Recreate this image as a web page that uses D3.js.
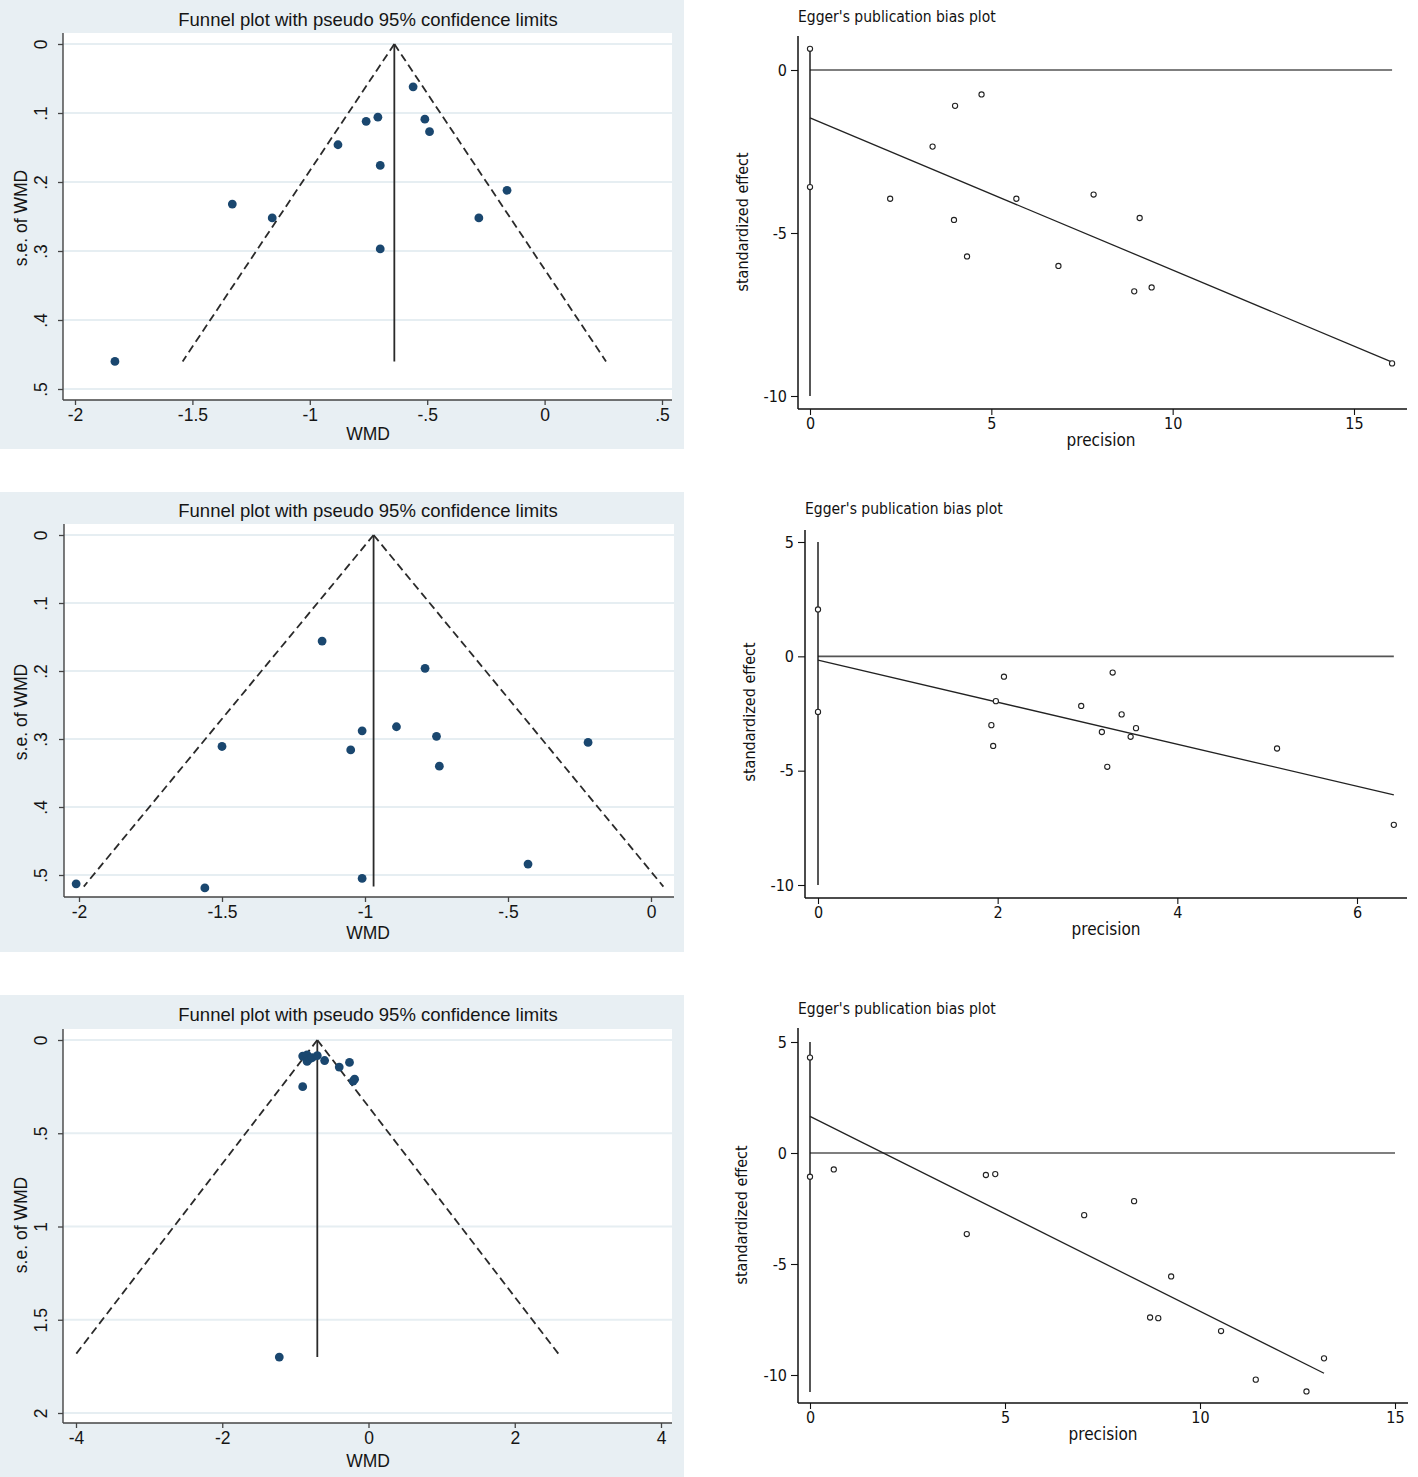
<!DOCTYPE html>
<html>
<head>
<meta charset="utf-8">
<script src="https://cdn.jsdelivr.net/npm/d3@7"></script>
<style>
  body { margin: 0; background: #fff; }
  svg { display: block; }
  .funnel text { font-family: "Liberation Sans", Arial, sans-serif; fill: #151515; }
  .egger text { font-family: "Liberation Sans Narrow", "DejaVu Sans Condensed", sans-serif; fill: #111; }
</style>
</head>
<body>
<div id="chart"></div>
<script>
// ---- funnel plot data (WMD vs s.e.) ----
const funnel1WMD = [-0.56, -0.76, -0.71, -0.51, -0.49, -0.88, -0.70, -0.16, -1.33, -1.16, -0.28, -0.70, -1.83];
const funnel1SE  = [0.062, 0.112, 0.106, 0.109, 0.127, 0.146, 0.176, 0.212, 0.232, 0.252, 0.252, 0.297, 0.460];
const funnel1Pooled = -0.64;
const funnel1MaxSE = 0.46;
const funnel1XTicks = [-2, -1.5, -1, -0.5, 0, 0.5];
const funnel1XLabels = ["-2", "-1.5", "-1", "-.5", "0", ".5"];
const funnel1YTicks = [0, 0.1, 0.2, 0.3, 0.4, 0.5];
const funnel1YLabels = ["0", ".1", ".2", ".3", ".4", ".5"];

const funnel2WMD = [-1.15, -0.79, -0.89, -1.01, -0.75, -0.22, -1.50, -1.05, -0.74, -0.43, -1.01, -2.01, -1.56];
const funnel2SE  = [0.156, 0.196, 0.282, 0.288, 0.296, 0.305, 0.311, 0.316, 0.340, 0.484, 0.505, 0.513, 0.519];
const funnel2Pooled = -0.97;
const funnel2MaxSE = 0.517;
const funnel2XTicks = [-2, -1.5, -1, -0.5, 0];
const funnel2XLabels = ["-2", "-1.5", "-1", "-.5", "0"];
const funnel2YTicks = [0, 0.1, 0.2, 0.3, 0.4, 0.5];
const funnel2YLabels = ["0", ".1", ".2", ".3", ".4", ".5"];

const funnel3WMD = [-0.90, -0.84, -0.84, -0.80, -0.77, -0.70, -0.60, -0.40, -0.26, -0.21, -0.19, -0.90, -1.22];
const funnel3SE  = [0.086, 0.080, 0.115, 0.100, 0.095, 0.084, 0.110, 0.145, 0.120, 0.220, 0.210, 0.250, 1.700];
const funnel3Pooled = -0.70;
const funnel3MaxSE = 1.70;
const funnel3XTicks = [-4, -2, 0, 2, 4];
const funnel3XLabels = ["-4", "-2", "0", "2", "4"];
const funnel3YTicks = [0, 0.5, 1, 1.5, 2];
const funnel3YLabels = ["0", ".5", "1", "1.5", "2"];

// ---- Egger plot data (precision vs standardized effect) ----
const egger1Precision = [0, 0, 2.21, 3.38, 4.00, 3.97, 4.73, 4.33, 5.69, 6.85, 7.82, 8.94, 9.09, 9.42, 16.05];
const egger1Effect    = [0.65, -3.59, -3.95, -2.35, -1.10, -4.60, -0.75, -5.72, -3.95, -6.01, -3.82, -6.79, -4.54, -6.67, -9.00];
const egger1Fit = [[0, -1.47], [16.05, -8.96]];
const egger1Zero = [0, 16.05];
const egger1Vertical = [0.65, -10];
const egger1XTicks = [0, 5, 10, 15];
const egger1YTicks = [0, -5, -10];

const egger2Precision = [0, 0, 2.07, 1.98, 1.93, 1.95, 2.93, 3.28, 3.16, 3.38, 3.54, 3.48, 3.22, 5.11, 6.41];
const egger2Effect    = [2.05, -2.43, -0.89, -1.96, -3.01, -3.92, -2.17, -0.71, -3.31, -2.54, -3.14, -3.52, -4.83, -4.03, -7.37];
const egger2Fit = [[0, -0.17], [6.41, -6.06]];
const egger2Zero = [0, 6.41];
const egger2Vertical = [5, -10];
const egger2XTicks = [0, 2, 4, 6];
const egger2YTicks = [5, 0, -5, -10];

const egger3Precision = [0, 0, 0.61, 4.02, 4.51, 4.75, 7.03, 8.31, 9.26, 8.72, 8.93, 10.54, 11.43, 12.73, 13.18];
const egger3Effect    = [4.30, -1.07, -0.74, -3.65, -0.99, -0.95, -2.80, -2.17, -5.56, -7.41, -7.44, -8.02, -10.21, -10.74, -9.25];
const egger3Fit = [[0, 1.65], [13.18, -9.92]];
const egger3Zero = [0, 15];
const egger3Vertical = [5, -10.77];
const egger3XTicks = [0, 5, 10, 15];
const egger3YTicks = [5, 0, -5, -10];

const W = 1418, H = 1477;
const svg = d3.select('#chart').append('svg').attr('width', W).attr('height', H);
const FUNNEL_FONT = '"Liberation Sans", Arial, sans-serif';
const EGGER_FONT = '"Liberation Sans Narrow", "DejaVu Sans Condensed", sans-serif';

const funnels = [
  { wmd: funnel1WMD, se: funnel1SE, pooled: funnel1Pooled, maxSE: funnel1MaxSE,
    xt: funnel1XTicks, xl: funnel1XLabels, yt: funnel1YTicks, yl: funnel1YLabels,
    bg: [0, 0, 684, 449], box: [63, 33, 672, 400],
    xd: [-2, 0.5], xr: [75, 662], yd: [0, 0.5], yr: [44, 389],
    titleY: 21, labY: 435, ylabY: 218 },
  { wmd: funnel2WMD, se: funnel2SE, pooled: funnel2Pooled, maxSE: funnel2MaxSE,
    xt: funnel2XTicks, xl: funnel2XLabels, yt: funnel2YTicks, yl: funnel2YLabels,
    bg: [0, 492, 684, 952], box: [64, 524, 674, 897],
    xd: [-2, 0], xr: [79, 651], yd: [0, 0.5], yr: [535, 875],
    titleY: 512, labY: 934, ylabY: 712 },
  { wmd: funnel3WMD, se: funnel3SE, pooled: funnel3Pooled, maxSE: funnel3MaxSE,
    xt: funnel3XTicks, xl: funnel3XLabels, yt: funnel3YTicks, yl: funnel3YLabels,
    bg: [0, 995, 684, 1477], box: [63, 1029, 672, 1423],
    xd: [-4, 4], xr: [76, 661], yd: [0, 2], yr: [1040, 1413],
    titleY: 1016, labY: 1462, ylabY: 1225 }
];

funnels.forEach(f => {
  const g = svg.append('g').attr('class', 'funnel');
  const [bx0, by0, bx1, by1] = f.box;
  g.append('rect').attr('x', f.bg[0]).attr('y', f.bg[1])
    .attr('width', f.bg[2] - f.bg[0]).attr('height', f.bg[3] - f.bg[1]).attr('fill', '#e8eff3');
  g.append('rect').attr('x', bx0).attr('y', by0)
    .attr('width', bx1 - bx0).attr('height', by1 - by0).attr('fill', '#fff');

  const x = d3.scaleLinear().domain(f.xd).range(f.xr);
  const y = d3.scaleLinear().domain(f.yd).range(f.yr);

  // grid
  g.selectAll('.grid').data(f.yt).enter().append('line')
    .attr('x1', bx0).attr('x2', bx1).attr('y1', d => y(d)).attr('y2', d => y(d))
    .attr('stroke', '#e6eef2').attr('stroke-width', 1.8);

  // axes
  const xa = g.append('g').attr('transform', `translate(0,${by1})`)
    .call(d3.axisBottom(x).tickValues(f.xt).tickFormat((d, i) => f.xl[i]).tickSizeOuter(0).tickSize(5).tickPadding(4));
  xa.select('.domain').attr('d', `M${bx0},0H${bx1}`);
  const ya = g.append('g').attr('transform', `translate(${bx0},0)`)
    .call(d3.axisLeft(y).tickValues(f.yt).tickFormat((d, i) => f.yl[i]).tickSizeOuter(0).tickSize(5));
  ya.select('.domain').attr('d', `M0,${by0}V${by1}`);
  [xa, ya].forEach(a => {
    a.select('.domain').attr('stroke', '#444').attr('stroke-width', 1.4);
    a.selectAll('.tick line').attr('stroke', '#444').attr('stroke-width', 1.3);
    a.selectAll('.tick text').attr('font-size', 17.5).attr('fill', '#151515')
      .style('font-family', FUNNEL_FONT);
  });
  ya.selectAll('.tick text')
    .attr('x', null).attr('dy', null)
    .attr('text-anchor', 'middle').attr('dominant-baseline', 'middle')
    .attr('transform', `translate(${42 - bx0},0) rotate(-90)`);

  // funnel limits
  const apex = [x(f.pooled), y(0)];
  const z = 1.96 * f.maxSE;
  [f.pooled - z, f.pooled + z].forEach(e => {
    g.append('line').attr('x1', apex[0]).attr('y1', apex[1])
      .attr('x2', x(e)).attr('y2', y(f.maxSE))
      .attr('stroke', '#2a2a2a').attr('stroke-width', 1.8).attr('stroke-dasharray', '8,4.5');
  });
  g.append('line').attr('x1', apex[0]).attr('y1', apex[1])
    .attr('x2', apex[0]).attr('y2', y(f.maxSE))
    .attr('stroke', '#2a2a2a').attr('stroke-width', 1.8);

  g.selectAll('.pt').data(f.wmd).enter().append('circle')
    .attr('cx', d => x(d)).attr('cy', (d, i) => y(f.se[i])).attr('r', 4.4)
    .attr('fill', '#1a476f');

  g.append('text').attr('x', 368).attr('y', f.titleY).attr('text-anchor', 'middle')
    .attr('dominant-baseline', 'middle').attr('font-size', 18.5)
    .text('Funnel plot with pseudo 95% confidence limits');
  g.append('text').attr('x', 368).attr('y', f.labY).attr('text-anchor', 'middle')
    .attr('dominant-baseline', 'middle').attr('font-size', 17.5).text('WMD');
  g.append('text').attr('transform', `translate(22,${f.ylabY}) rotate(-90)`)
    .attr('text-anchor', 'middle').attr('dominant-baseline', 'middle')
    .attr('font-size', 17.5).text('s.e. of WMD');
});

const eggers = [
  { px: egger1Precision, ef: egger1Effect, fit: egger1Fit, zero: egger1Zero, vert: egger1Vertical,
    xt: egger1XTicks, yt: egger1YTicks, box: [798, 36, 1407, 409],
    xd: [0, 15], xr: [810, 1354], yd: [0, -10], yr: [70, 396],
    titleY: 17, ylabX: 743, ylabY: 222, xlabX: 1101, xlabY: 441 },
  { px: egger2Precision, ef: egger2Effect, fit: egger2Fit, zero: egger2Zero, vert: egger2Vertical,
    xt: egger2XTicks, yt: egger2YTicks, box: [805, 530, 1407, 898],
    xd: [0, 6], xr: [818, 1357], yd: [5, -10], yr: [542, 885],
    titleY: 509, ylabX: 750, ylabY: 712, xlabX: 1106, xlabY: 930 },
  { px: egger3Precision, ef: egger3Effect, fit: egger3Fit, zero: egger3Zero, vert: egger3Vertical,
    xt: egger3XTicks, yt: egger3YTicks, box: [798, 1028, 1408, 1403],
    xd: [0, 15], xr: [810, 1395], yd: [5, -10], yr: [1042, 1375],
    titleY: 1009, ylabX: 742, ylabY: 1215, xlabX: 1103, xlabY: 1435 }
];

eggers.forEach(e => {
  const g = svg.append('g').attr('class', 'egger');
  const [bx0, by0, bx1, by1] = e.box;
  const x = d3.scaleLinear().domain(e.xd).range(e.xr);
  const y = d3.scaleLinear().domain(e.yd).range(e.yr);
  const fmt = d => String(d);

  const xa = g.append('g').attr('transform', `translate(0,${by1})`)
    .call(d3.axisBottom(x).tickValues(e.xt).tickFormat(fmt).tickSizeOuter(0).tickSize(6).tickPadding(3));
  xa.select('.domain').attr('d', `M${bx0},0H${bx1}`);
  const ya = g.append('g').attr('transform', `translate(${bx0},0)`)
    .call(d3.axisLeft(y).tickValues(e.yt).tickFormat(fmt).tickSizeOuter(0).tickSize(7).tickPadding(4));
  ya.select('.domain').attr('d', `M0,${by0}V${by1}`);
  [xa, ya].forEach(a => {
    a.select('.domain').attr('stroke', '#111').attr('stroke-width', 1.5);
    a.selectAll('.tick line').attr('stroke', '#111').attr('stroke-width', 1.1);
    a.selectAll('.tick text').attr('font-size', 16).attr('fill', '#111')
      .style('font-family', EGGER_FONT);
  });

  // zero line, intercept line, fitted line
  g.append('line').attr('x1', x(e.zero[0])).attr('x2', x(e.zero[1]))
    .attr('y1', y(0)).attr('y2', y(0)).attr('stroke', '#555').attr('stroke-width', 1.7);
  g.append('line').attr('x1', x(0)).attr('x2', x(0))
    .attr('y1', y(e.vert[0])).attr('y2', y(e.vert[1])).attr('stroke', '#111').attr('stroke-width', 1.4);
  g.append('line').attr('x1', x(e.fit[0][0])).attr('y1', y(e.fit[0][1]))
    .attr('x2', x(e.fit[1][0])).attr('y2', y(e.fit[1][1])).attr('stroke', '#222').attr('stroke-width', 1.3);

  g.selectAll('.pt').data(e.px).enter().append('circle')
    .attr('cx', d => x(d)).attr('cy', (d, i) => y(e.ef[i])).attr('r', 2.6)
    .attr('fill', '#fff').attr('stroke', '#222').attr('stroke-width', 1.1);

  g.append('text').attr('x', bx0).attr('y', e.titleY).attr('dominant-baseline', 'middle')
    .attr('font-size', 15.5).text("Egger's publication bias plot");
  g.append('text').attr('transform', `translate(${e.ylabX},${e.ylabY}) rotate(-90)`)
    .attr('text-anchor', 'middle').attr('dominant-baseline', 'middle')
    .attr('font-size', 16).text('standardized effect');
  g.append('text').attr('x', e.xlabX).attr('y', e.xlabY).attr('text-anchor', 'middle')
    .attr('dominant-baseline', 'middle').attr('font-size', 17).text('precision');
});
</script>
</body>
</html>
